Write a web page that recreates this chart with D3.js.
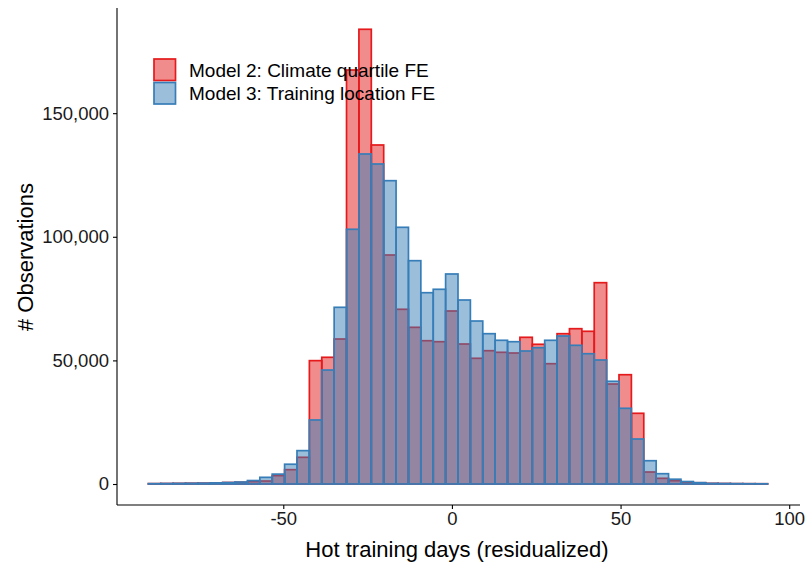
<!DOCTYPE html>
<html>
  <head>
    <meta charset="utf-8">
    <title>Hot training days histogram</title>
<style>
body { margin: 0; background: #fff; }
svg { font-family: "Liberation Sans", Arial, sans-serif; }
.axis path, .axis line { stroke: #000; stroke-width: 1.1px; }
.axis text { font-size: 18.5px; fill: #1a1a1a; }
.title { font-size: 22px; fill: #000; }
.legend text { font-size: 19px; fill: #000; }
</style>
	<script src="https://d3js.org/d3.v7.min.js"></script>
  </head>
  <body>
	<script type="text/javascript">

		// histogram bins: 50 bins starting at binStart, each binWidth wide
		var binStart = -90.0;
		var binWidth = 3.672;

		// Model 2: Climate quartile FE
		var model2 = [150, 200, 250, 300, 350, 450, 600, 700, 1000, 1200,
			3400, 5800, 10800, 49900, 51250, 58650, 167460, 183930, 137130, 92630,
			70670, 63380, 57960, 57560, 69980, 56630, 50850, 53920, 53270, 52990,
			59340, 56510, 48660, 60800, 62820, 61770, 81430, 40450, 44210, 28600,
			4850, 2300, 1330, 800, 500, 250, 200, 150, 120, 100];

		// Model 3: Training location FE
		var model3 = [150, 200, 250, 300, 350, 450, 600, 800, 1400, 2700,
			4000, 8000, 13500, 25900, 46100, 71470, 103030, 133490, 129440, 122690,
			103830, 90330, 77380, 78760, 84950, 74430, 65930, 60800, 58130, 57560,
			53800, 55130, 58130, 59870, 56100, 52700, 50160, 41540, 30620, 18200,
			9420, 4170, 1940, 1000, 550, 250, 200, 150, 120, 100];

		var seriesNames = ["Model 2: Climate quartile FE", "Model 3: Training location FE"];
		var seriesColors = ["#E41A1C", "#377EB8"];

		var xTicks = [-50, 0, 50, 100];
		var yTicks = [0, 50000, 100000, 150000];

		var width = 806, height = 567;

		var x = d3.scaleLinear().domain([-99.3, 103.2]).range([117, 800]);
		var y = d3.scaleLinear().domain([-8490, 192540]).range([505, 8]);

		var svg = d3.select("body").append("svg")
			.attr("width", width)
			.attr("height", height);

		// draw each series as a set of bars, Model 3 on top
		[model2, model3].forEach(function(vals, s) {
			svg.append("g")
				.selectAll("rect")
				.data(vals)
				.enter().append("rect")
				.attr("x", function(d, i) { return x(binStart + i * binWidth); })
				.attr("width", function(d, i) { return x(binStart + (i + 1) * binWidth) - x(binStart + i * binWidth); })
				.attr("y", function(d) { return y(d); })
				.attr("height", function(d) { return y(0) - y(d); })
				.attr("fill", seriesColors[s])
				.attr("fill-opacity", 0.5)
				.attr("stroke", seriesColors[s])
				.attr("stroke-width", 1.7);
		});

		// x axis (plain hyphen for negatives, like the original)
		var xAxis = svg.append("g")
			.attr("class", "axis")
			.attr("transform", "translate(0,505)")
			.call(d3.axisBottom(x).tickValues(xTicks).tickSize(4).tickPadding(3)
				.tickFormat(function(d) { return String(d); }));
		xAxis.select(".domain").attr("d", "M117,0H800");

		// y axis
		var yAxis = svg.append("g")
			.attr("class", "axis")
			.attr("transform", "translate(117,0)")
			.call(d3.axisLeft(y).tickValues(yTicks).tickSize(4).tickPadding(4)
				.tickFormat(d3.format(",")));
		yAxis.select(".domain").attr("d", "M0,8V505");

		// axis titles
		svg.append("text")
			.attr("class", "title")
			.attr("x", 457)
			.attr("y", 557)
			.style("text-anchor", "middle")
			.text("Hot training days (residualized)");

		svg.append("text")
			.attr("class", "title")
			.attr("transform", "translate(33,257) rotate(-90)")
			.style("text-anchor", "middle")
			.text("# Observations");

		// legend
		var legend = svg.append("g").attr("class", "legend")
			.attr("transform", "translate(153,58)");
		seriesNames.forEach(function(name, i) {
			legend.append("rect")
				.attr("x", 1)
				.attr("y", i * 23.5 + 1)
				.attr("width", 21.5)
				.attr("height", 21.5)
				.attr("fill", seriesColors[i])
				.attr("fill-opacity", 0.5)
				.attr("stroke", seriesColors[i])
				.attr("stroke-width", 1.7);
			legend.append("text")
				.attr("x", 36)
				.attr("y", i * 23.5 + 18.5)
				.text(name);
		});

    </script>
  </body>
</html>
